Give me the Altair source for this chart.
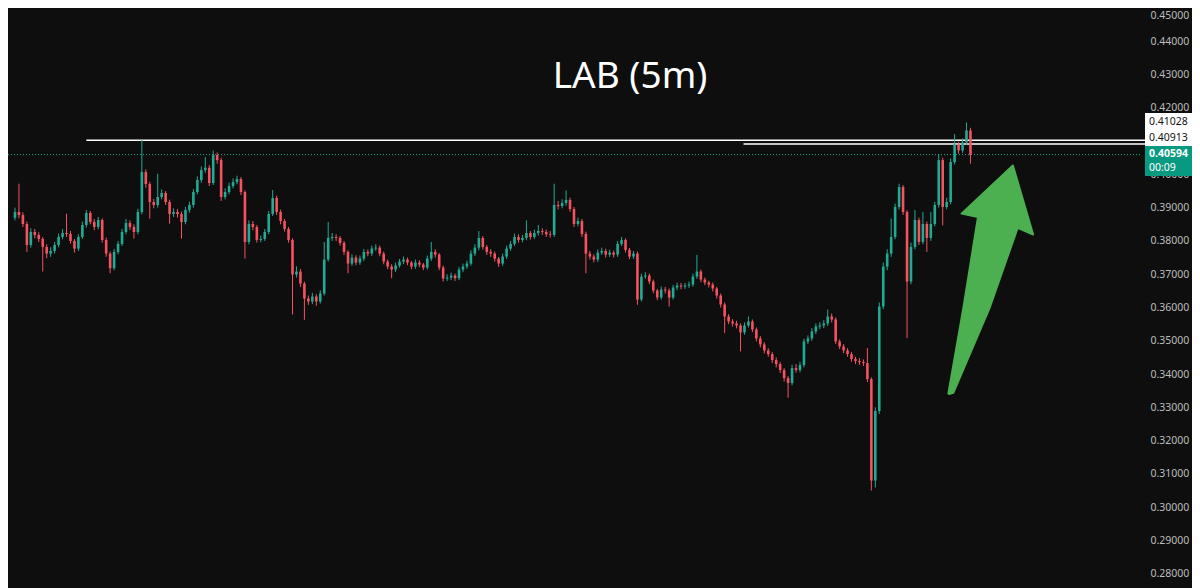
import altair as alt
import pandas as pd

# ---------------- data (prices in 1e-4 units) ----------------
first_open_tick = 3870
close_ticks = [
    3887, 3878, 3851, 3788, 3827, 3818, 3806, 3782, 3762, 3770,
    3788, 3812, 3824, 3821, 3800, 3777, 3812, 3848, 3884, 3857,
    3842, 3863, 3803, 3762, 3718, 3767, 3791, 3827, 3854, 3842,
    3827, 3887, 4007, 3971, 3917, 3908, 3932, 3944, 3917, 3881,
    3887, 3881, 3857, 3893, 3908, 3947, 3983, 4013, 4020, 3974,
    4058, 4043, 3932, 3947, 3965, 3977, 3986, 3947, 3797, 3851,
    3842, 3803, 3806, 3827, 3881, 3929, 3887, 3860, 3836, 3803,
    3699, 3708, 3672, 3627, 3618, 3633, 3618, 3642, 3744, 3809,
    3812, 3809, 3794, 3767, 3732, 3750, 3735, 3747, 3767, 3762,
    3777, 3780, 3762, 3738, 3723, 3714, 3726, 3738, 3744, 3735,
    3723, 3735, 3729, 3720, 3747, 3767, 3759, 3720, 3687, 3690,
    3696, 3688, 3714, 3723, 3732, 3762, 3780, 3809, 3782, 3767,
    3762, 3747, 3732, 3753, 3777, 3791, 3812, 3803, 3809, 3824,
    3812, 3824, 3830, 3827, 3820, 3818, 3908, 3905, 3914, 3923,
    3896, 3851, 3860, 3821, 3762, 3753, 3744, 3765, 3770, 3759,
    3765, 3759, 3791, 3803, 3773, 3753, 3762, 3624, 3693, 3696,
    3678, 3651, 3630, 3654, 3651, 3630, 3660, 3666, 3663, 3666,
    3669, 3693, 3708, 3684, 3675, 3669, 3657, 3636, 3609, 3573,
    3558, 3552, 3546, 3525, 3546, 3558, 3534, 3507, 3489, 3471,
    3460, 3442, 3430, 3412, 3388, 3373, 3418, 3412, 3427, 3498,
    3507, 3528, 3543, 3546, 3552, 3573, 3564, 3498, 3483, 3471,
    3460, 3445, 3439, 3436, 3433, 3385, 3080, 3289, 3603, 3723,
    3762, 3812, 3902, 3962, 3887, 3678, 3782, 3863, 3797, 3851,
    3809, 3851, 3908, 4043, 3902, 3917, 4037, 4090, 4072, 4096,
    4132, 4059,
]
high_ticks = [
    3900, 3972, 3886, 3858, 3838, 3836, 3826, 3812, 3790, 3781,
    3797, 3822, 3836, 3882, 3830, 3806, 3820, 3858, 3893, 3890,
    3866, 3872, 3868, 3810, 3768, 3776, 3800, 3836, 3866, 3862,
    3850, 3897, 4103, 4015, 3978, 3926, 4002, 3955, 3950, 3924,
    3898, 3896, 3888, 3902, 3918, 3956, 3994, 4024, 4052, 4028,
    4072, 4066, 4050, 3958, 3975, 3988, 3996, 3992, 3952, 3862,
    3860, 3848, 3816, 3836, 3890, 3953, 3936, 3894, 3866, 3842,
    3808, 3724, 3716, 3678, 3636, 3644, 3640, 3652, 3797, 3857,
    3824, 3820, 3815, 3800, 3772, 3760, 3757, 3756, 3776, 3774,
    3786, 3790, 3786, 3768, 3744, 3730, 3735, 3746, 3753, 3750,
    3740, 3744, 3742, 3734, 3756, 3797, 3775, 3764, 3726, 3700,
    3705, 3702, 3722, 3732, 3741, 3772, 3790, 3830, 3815, 3788,
    3775, 3768, 3752, 3762, 3786, 3800, 3822, 3820, 3818, 3862,
    3830, 3834, 3848, 3838, 3834, 3830, 3972, 3920, 3925, 3952,
    3930, 3902, 3870, 3866, 3828, 3770, 3760, 3774, 3780, 3777,
    3774, 3771, 3800, 3812, 3808, 3779, 3770, 3768, 3702, 3706,
    3702, 3684, 3656, 3663, 3662, 3657, 3668, 3675, 3674, 3674,
    3678, 3702, 3758, 3714, 3690, 3681, 3675, 3662, 3642, 3615,
    3580, 3565, 3560, 3552, 3555, 3573, 3564, 3540, 3514, 3496,
    3478, 3466, 3450, 3436, 3418, 3394, 3428, 3430, 3437, 3506,
    3516, 3538, 3552, 3556, 3562, 3594, 3582, 3570, 3504, 3490,
    3478, 3466, 3452, 3448, 3444, 3478, 3390, 3300, 3615, 3735,
    3775, 3867, 3912, 3972, 3968, 3892, 3795, 3893, 3870, 3887,
    3858, 3887, 3918, 4061, 4050, 3930, 4048, 4121, 4098, 4108,
    4156, 4140,
]
low_ticks = [
    3862, 3868, 3842, 3767, 3780, 3808, 3797, 3708, 3748, 3752,
    3762, 3781, 3805, 3812, 3792, 3765, 3770, 3806, 3840, 3850,
    3832, 3835, 3795, 3752, 3703, 3712, 3760, 3785, 3820, 3833,
    3807, 3820, 3880, 3960, 3867, 3898, 3900, 3925, 3908, 3852,
    3872, 3870, 3807, 3850, 3885, 3900, 3940, 3975, 4005, 3965,
    3968, 4032, 3920, 3925, 3940, 3958, 3970, 3938, 3747, 3790,
    3832, 3795, 3796, 3800, 3820, 3875, 3878, 3850, 3828, 3795,
    3579, 3690, 3662, 3563, 3608, 3610, 3605, 3612, 3636, 3738,
    3800, 3800, 3786, 3758, 3703, 3725, 3727, 3728, 3740, 3754,
    3755, 3770, 3754, 3730, 3715, 3688, 3707, 3720, 3730, 3727,
    3715, 3716, 3721, 3712, 3714, 3740, 3750, 3712, 3678, 3680,
    3682, 3680, 3682, 3706, 3716, 3726, 3755, 3772, 3774, 3758,
    3752, 3738, 3722, 3725, 3746, 3770, 3785, 3795, 3796, 3802,
    3804, 3806, 3816, 3818, 3812, 3810, 3812, 3895, 3898, 3906,
    3888, 3842, 3844, 3812, 3703, 3744, 3735, 3737, 3758, 3750,
    3752, 3750, 3752, 3785, 3765, 3745, 3746, 3608, 3618, 3686,
    3670, 3643, 3622, 3624, 3642, 3603, 3624, 3652, 3655, 3656,
    3659, 3662, 3686, 3676, 3667, 3660, 3648, 3627, 3600, 3523,
    3550, 3543, 3537, 3468, 3518, 3540, 3526, 3498, 3480, 3462,
    3452, 3433, 3420, 3403, 3378, 3329, 3366, 3404, 3405, 3420,
    3490, 3500, 3520, 3535, 3538, 3545, 3555, 3490, 3475, 3463,
    3452, 3437, 3430, 3428, 3424, 3376, 3050, 3059, 3280, 3595,
    3712, 3752, 3805, 3895, 3878, 3508, 3670, 3775, 3788, 3790,
    3767, 3800, 3844, 3900, 3847, 3895, 3910, 4030, 4062, 4065,
    4088, 4032,
]

title_text = "LAB (5m)"
resist_prices = [0.41028, 0.40913]
resist_start_idx = [18, 183.75]
last_price = 0.40594
countdown = "00:09"
# 0.41000 is hidden behind the price badges in the reference
y_tick_values = [0.28, 0.29, 0.30, 0.31, 0.32, 0.33, 0.34, 0.35, 0.36,
                 0.37, 0.38, 0.39, 0.40, 0.42, 0.43, 0.44, 0.45]

# arrow outline (candle index, price)
arrow_idx = [235.4, 239.2, 242.9, 238.75, 251.7, 256.8, 252.9, 245.8, 236.7, 235.4]
arrow_price = [0.33392, 0.3598, 0.38722, 0.38821, 0.40268, 0.38193, 0.38393,
               0.3598, 0.33439, 0.33392]

# ---------------- tables ----------------
open_ticks = [first_open_tick] + close_ticks[:-1]
candles = pd.DataFrame({
    "idx": list(range(len(close_ticks))),
    "open": [v / 10000 for v in open_ticks],
    "high": [v / 10000 for v in high_ticks],
    "low": [v / 10000 for v in low_ticks],
    "close": [v / 10000 for v in close_ticks],
})
resist_df = pd.DataFrame({"price": resist_prices, "start": resist_start_idx})
last_df = pd.DataFrame({"price": [last_price]})
arrow_df = pd.DataFrame({"k": list(range(len(arrow_idx))), "idx": arrow_idx, "price": arrow_price})
one = pd.DataFrame({"a": [0]})

# ---------------- style ----------------
BG = "#0e0e0e"
UP = "#22ab94"
DOWN = "#f7525f"
ARROW = "#4caf50"
BADGE = "#089981"
W, H = 1132, 580
FONT = "Noto Sans"

x_scale = alt.Scale(domain=[-0.5, 282.5], nice=False, zero=False)
y_scale = alt.Scale(domain=[0.27571, 0.45], nice=False, zero=False)
X = alt.X("idx:Q", scale=x_scale, axis=None)

color = alt.condition("datum.close >= datum.open", alt.value(UP), alt.value(DOWN))

y_axis = alt.Axis(orient="right", values=y_tick_values, format=".5f",
                  labelColor="#bdbdbd", labelFont=FONT, labelFontSize=10.5,
                  labelPadding=10, ticks=False, domain=False, grid=False,
                  labelFlush=True, labelFlushOffset=-2, labelOverlap=False,
                  title=None, labelAlign="left")


def Y(field):
    return alt.Y(field, scale=y_scale, axis=y_axis)


last_line = alt.Chart(last_df).mark_rule(color=UP, strokeDash=[1, 2], strokeWidth=1).encode(
    y=Y("price:Q"))

resist = alt.Chart(resist_df).mark_rule(color="white", strokeWidth=1.5).encode(
    x=alt.X("start:Q", scale=x_scale, axis=None),
    x2=alt.value(1137),
    y=Y("price:Q"))

wicks = alt.Chart(candles).mark_rule(strokeWidth=1).encode(
    x=X, y=Y("low:Q"), y2="high:Q", color=color)

bodies = alt.Chart(candles).mark_bar(size=2.6).encode(
    x=X, y=Y("open:Q"), y2="close:Q", color=color)

arrow = alt.Chart(arrow_df).mark_line(fill=ARROW, stroke=ARROW, strokeWidth=2,
                                      strokeJoin="round").encode(
    x=X, y=Y("price:Q"), order="k:Q")

box_white = alt.Chart(one).mark_rect(color="white").encode(
    x=alt.value(1137), x2=alt.value(1184), y=alt.value(105), y2=alt.value(138))
box_green = alt.Chart(one).mark_rect(color=BADGE).encode(
    x=alt.value(1137), x2=alt.value(1184), y=alt.value(138), y2=alt.value(168))


def label(txt, py, col, weight="normal"):
    return alt.Chart(pd.DataFrame({"t": [txt]})).mark_text(
        font=FONT, fontSize=10.5, color=col, fontWeight=weight, align="left",
        baseline="middle").encode(text="t:N", x=alt.value(1141), y=alt.value(py))


lab1 = label(f"{resist_prices[0]:.5f}", 113.5, "#111111")
lab2 = label(f"{resist_prices[1]:.5f}", 129.5, "#111111")
lab3 = label(f"{last_price:.5f}", 145.5, "white", "bold")
lab4 = label(countdown, 159.5, "white")

title = alt.Chart(pd.DataFrame({"t": [title_text]})).mark_text(
    font=FONT, fontSize=37, color="white", align="center", baseline="alphabetic").encode(
    text="t:N", x=alt.value(622), y=alt.value(80))

chart = alt.layer(
    last_line, resist, wicks, bodies, arrow,
    box_white, box_green, lab1, lab2, lab3, lab4, title
).properties(
    width=W, height=H, background=BG,
    padding={"left": 0, "top": 0, "right": 52, "bottom": 0},
    autosize=alt.AutoSizeParams(type="none"),
).configure_view(strokeWidth=0)

chart.save("out.html", embed_options={"renderer": "svg", "actions": False})
